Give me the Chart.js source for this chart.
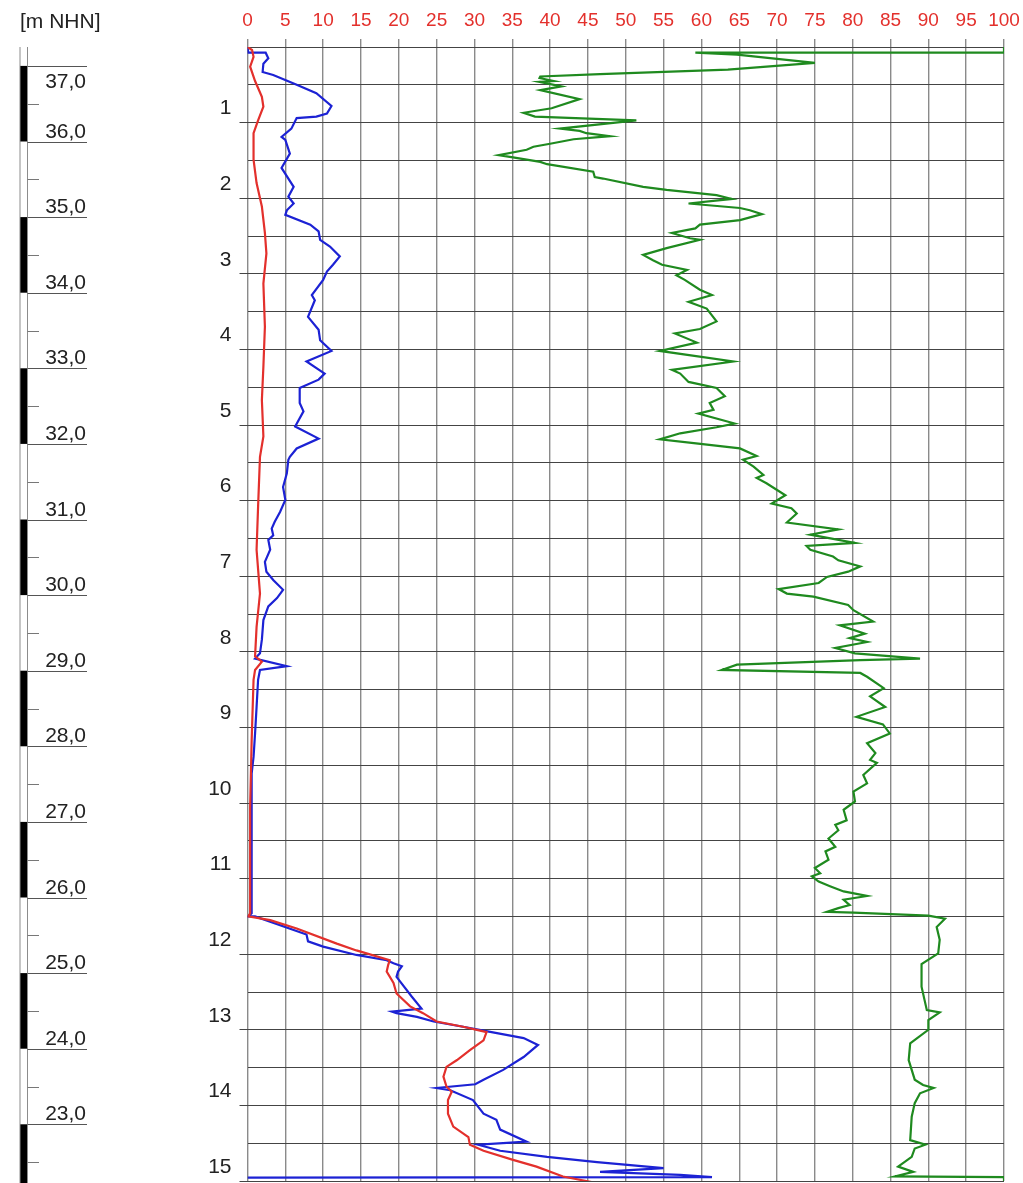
<!DOCTYPE html>
<html>
<head>
<meta charset="utf-8">
<script src="https://cdn.jsdelivr.net/npm/chart.js@4.4.1/dist/chart.umd.min.js"></script>
<style>
  html, body { margin: 0; padding: 0; background: #fff; }
  canvas { display: block; }
</style>
</head>
<body>
<canvas id="log" width="1023" height="1183"></canvas>
<script>
// ---- log readings: depth below ground [m] and reading on the 0-100 scale ----
const redDepth = [0, 0.04, 0.13, 0.26, 0.45, 0.66, 0.79, 0.97, 1.14, 1.23, 1.49, 1.80, 2.11, 2.46, 2.73, 3.13, 3.70, 4.23, 4.67, 5.15, 5.42, 6.08, 6.65, 7.23, 7.67, 8.06, 8.13, 8.24, 8.37, 9.17, 10.05, 11.46, 11.50, 11.55, 11.66, 11.86, 11.95, 12.08, 12.14, 12.23, 12.38, 12.52, 12.69, 12.78, 12.89, 12.96, 13.03, 13.14, 13.27, 13.40, 13.49, 13.62, 13.75, 13.82, 13.93, 14.11, 14.28, 14.42, 14.52, 14.60, 14.72, 14.81, 14.94, 15.01, 15.05];
const redValue = [0, 0.6, 0.8, 0.35, 1.0, 1.9, 2.1, 1.4, 0.8, 0.8, 0.8, 1.2, 1.9, 2.3, 2.5, 2.1, 2.3, 2.1, 1.9, 2.1, 1.65, 1.4, 1.2, 1.65, 1.2, 1.0, 1.9, 1.0, 0.8, 0.55, 0.35, 0.35, 0.1, 3.0, 6.5, 11.8, 14.4, 18.8, 18.6, 18.4, 19.3, 19.7, 21.5, 23.2, 25.0, 28.5, 31.6, 31.2, 29.4, 27.7, 26.3, 25.9, 26.3, 27.0, 26.5, 26.5, 27.2, 29.2, 29.4, 31.2, 35.1, 38.2, 41.7, 45.3, 47.0];

const blueDepth = [0, 0.075, 0.075, 0.15, 0.22, 0.33, 0.37, 0.50, 0.61, 0.78, 0.88, 0.92, 0.94, 1.08, 1.19, 1.23, 1.41, 1.60, 1.85, 1.98, 2.07, 2.16, 2.22, 2.35, 2.44, 2.55, 2.64, 2.77, 2.88, 2.97, 3.08, 3.28, 3.35, 3.57, 3.74, 3.88, 4.02, 4.16, 4.32, 4.40, 4.51, 4.71, 4.82, 5.02, 5.18, 5.31, 5.42, 5.46, 5.64, 5.82, 5.99, 6.15, 6.28, 6.37, 6.46, 6.52, 6.65, 6.81, 6.94, 7.05, 7.18, 7.29, 7.40, 7.58, 7.84, 8.02, 8.09, 8.19, 8.24, 8.37, 8.73, 9.08, 9.39, 9.61, 10.49, 11.46, 11.50, 11.50, 11.74, 11.83, 11.90, 12.01, 12.08, 12.12, 12.16, 12.23, 12.30, 12.56, 12.72, 12.76, 12.78, 12.83, 12.89, 12.96, 13.01, 13.11, 13.20, 13.36, 13.53, 13.66, 13.72, 13.77, 13.80, 13.93, 14.11, 14.19, 14.32, 14.48, 14.52, 14.60, 14.68, 14.75, 14.83, 14.88, 14.92, 14.95, 14.955];
const blueValue = [0, 0.1, 2.4, 2.75, 2.1, 2.0, 3.4, 6.5, 9.1, 11.1, 10.5, 9.1, 6.5, 5.8, 4.5, 5.0, 5.6, 4.5, 6.1, 5.4, 6.1, 5.2, 5.0, 8.3, 9.4, 9.6, 10.9, 12.2, 11.3, 10.5, 10.0, 8.5, 8.9, 8.0, 9.4, 9.6, 11.1, 7.8, 10.2, 9.4, 6.9, 6.9, 7.4, 6.3, 9.4, 6.5, 5.6, 5.4, 5.2, 4.7, 5.0, 4.3, 3.6, 3.2, 3.4, 2.75, 3.0, 2.3, 2.5, 3.4, 4.7, 3.9, 2.75, 2.1, 1.9, 1.65, 1.0, 5.2, 1.65, 1.4, 1.2, 1.0, 0.8, 0.55, 0.55, 0.55, 0.1, 1.0, 7.8, 8.0, 10.0, 14.4, 18.4, 19.3, 20.4, 19.9, 19.7, 21.7, 23.0, 19.1, 19.7, 22.4, 24.6, 28.5, 31.2, 36.5, 38.4, 36.5, 33.8, 31.2, 30.1, 25.0, 26.8, 29.8, 31.2, 32.9, 33.4, 36.9, 30.5, 33.4, 39.6, 46.2, 55.0, 46.6, 57.2, 61.4, 0];

const greenDepth = [0, 0.075, 0.075, 0.10, 0.21, 0.30, 0.36, 0.39, 0.41, 0.45, 0.46, 0.52, 0.57, 0.69, 0.81, 0.87, 0.92, 0.97, 1.08, 1.11, 1.14, 1.18, 1.22, 1.28, 1.32, 1.36, 1.43, 1.46, 1.52, 1.55, 1.65, 1.72, 1.74, 1.85, 1.89, 1.96, 2.01, 2.07, 2.13, 2.16, 2.21, 2.29, 2.35, 2.40, 2.46, 2.53, 2.55, 2.66, 2.75, 2.82, 2.88, 2.95, 3.02, 3.08, 3.21, 3.28, 3.37, 3.46, 3.63, 3.73, 3.79, 3.91, 4.02, 4.16, 4.27, 4.32, 4.43, 4.51, 4.62, 4.71, 4.80, 4.85, 4.98, 5.03, 5.11, 5.19, 5.24, 5.31, 5.41, 5.46, 5.55, 5.66, 5.70, 5.77, 5.93, 6.04, 6.10, 6.17, 6.29, 6.38, 6.45, 6.56, 6.60, 6.65, 6.74, 6.79, 6.87, 6.94, 7.01, 7.09, 7.17, 7.23, 7.27, 7.38, 7.45, 7.60, 7.65, 7.76, 7.82, 7.87, 7.95, 8.02, 8.09, 8.11, 8.17, 8.24, 8.28, 8.33, 8.48, 8.59, 8.73, 8.86, 8.96, 9.08, 9.21, 9.34, 9.43, 9.47, 9.63, 9.74, 9.85, 9.98, 10.09, 10.23, 10.29, 10.36, 10.47, 10.58, 10.64, 10.75, 10.86, 10.93, 10.97, 11.04, 11.10, 11.17, 11.23, 11.28, 11.35, 11.39, 11.44, 11.45, 11.49, 11.53, 11.64, 11.81, 11.99, 12.13, 12.43, 12.74, 12.77, 12.87, 13.00, 13.18, 13.40, 13.66, 13.73, 13.77, 13.84, 13.97, 14.15, 14.46, 14.52, 14.57, 14.68, 14.81, 14.88, 14.94, 14.95, 15.0];
const greenValue = [100, 100, 59.2, 64.7, 75.0, 63.5, 46.6, 38.7, 38.6, 40.5, 38.6, 41.5, 38.7, 43.9, 40.2, 36.5, 38.0, 51.4, 41.3, 43.9, 44.8, 47.9, 43.1, 40.0, 37.8, 36.9, 33.2, 35.1, 38.7, 39.6, 45.7, 45.9, 47.0, 52.3, 55.4, 62.0, 64.0, 58.3, 65.1, 66.4, 68.0, 65.1, 59.8, 59.2, 56.1, 58.5, 59.8, 55.4, 52.3, 53.6, 54.8, 58.1, 56.7, 57.8, 59.8, 61.4, 58.3, 60.7, 62.0, 59.8, 56.5, 59.4, 54.5, 64.2, 56.1, 57.2, 58.3, 62.0, 63.1, 61.1, 61.6, 59.6, 64.4, 62.0, 57.2, 54.5, 59.0, 65.1, 67.3, 65.5, 66.9, 68.2, 67.3, 68.6, 71.1, 69.3, 71.9, 72.6, 71.3, 78.1, 74.4, 80.3, 73.9, 74.4, 77.4, 78.1, 81.0, 79.4, 76.6, 75.5, 70.2, 71.3, 74.8, 79.4, 80.1, 82.7, 78.3, 81.6, 79.6, 81.9, 77.7, 80.3, 88.9, 81.0, 64.7, 62.7, 81.0, 81.9, 84.1, 82.3, 84.3, 80.5, 84.0, 84.9, 81.9, 83.0, 82.3, 83.2, 81.4, 81.9, 80.1, 80.3, 78.8, 79.2, 77.7, 78.1, 76.8, 77.7, 76.4, 76.8, 75.0, 75.7, 74.6, 75.5, 77.0, 78.8, 81.9, 78.8, 79.6, 78.1, 76.6, 80.1, 90.0, 92.2, 91.1, 91.5, 91.3, 89.1, 89.1, 89.8, 91.5, 90.0, 90.0, 87.6, 87.4, 88.2, 89.3, 90.7, 88.9, 88.2, 87.8, 87.6, 89.6, 88.2, 87.8, 86.0, 88.0, 85.6, 100, 100];

// ---- axes ----
const valueTicks = [0, 5, 10, 15, 20, 25, 30, 35, 40, 45, 50, 55, 60, 65, 70, 75, 80, 85, 90, 95, 100];
const depthGrid = [0, 0.5, 1, 1.5, 2, 2.5, 3, 3.5, 4, 4.5, 5, 5.5, 6, 6.5, 7, 7.5, 8, 8.5, 9, 9.5, 10, 10.5, 11, 11.5, 12, 12.5, 13, 13.5, 14, 14.5, 15];
const depthLabels = [1, 2, 3, 4, 5, 6, 7, 8, 9, 10, 11, 12, 13, 14, 15];

// ---- elevation column [m NHN] ----
const groundLevel = 37.25;
const elevationLabels = [37, 36, 35, 34, 33, 32, 31, 30, 29, 28, 27, 26, 25, 24, 23];
const elevationHalfTicks = [36.5, 35.5, 34.5, 33.5, 32.5, 31.5, 30.5, 29.5, 28.5, 27.5, 26.5, 25.5, 24.5, 23.5, 22.5];
const darkBands = [[37, 36], [35, 34], [33, 32], [31, 30], [29, 28], [27, 26], [25, 24], [23, 22]];

const FONT = "'Liberation Sans', Arial, sans-serif";
const toPoints = (depth, value) => depth.map((d, i) => ({ x: value[i], y: d }));

const elevationColumn = {
  id: 'elevationColumn',
  afterDraw(chart) {
    const ctx = chart.ctx;
    const ys = chart.scales.y;
    const py = e => ys.getPixelForValue(groundLevel - e);
    const top = chart.chartArea.top;
    const bottom = chart.height;
    const railL = 20, railR = 27.5;
    ctx.save();
    ctx.beginPath();
    ctx.rect(0, top, 240, bottom - top);
    ctx.clip();
    ctx.fillStyle = '#000';
    darkBands.forEach(([a, b]) => ctx.fillRect(railL, py(a), railR - railL, py(b) - py(a)));
    ctx.strokeStyle = '#8c8c8c';
    ctx.lineWidth = 1;
    [railL, railR].forEach(x => {
      ctx.beginPath(); ctx.moveTo(x, top); ctx.lineTo(x, bottom); ctx.stroke();
    });
    ctx.strokeStyle = '#777';
    elevationHalfTicks.forEach(e => {
      const y = Math.round(py(e)) + 0.5;
      ctx.beginPath(); ctx.moveTo(railR, y); ctx.lineTo(39, y); ctx.stroke();
    });
    ctx.strokeStyle = '#555';
    ctx.fillStyle = '#222';
    ctx.font = '21px ' + FONT;
    ctx.textAlign = 'right';
    ctx.textBaseline = 'alphabetic';
    elevationLabels.forEach((e, i) => {
      const y = Math.round(py(e)) + 0.5;
      ctx.beginPath(); ctx.moveTo(railR, y); ctx.lineTo(87, y); ctx.stroke();
      const text = e.toFixed(1).replace('.', ',');
      // the topmost label hangs under its line to keep clear of the unit caption
      ctx.fillText(text, 86, i === 0 ? y + 21 : y - 5);
    });
    ctx.restore();
    ctx.save();
    ctx.fillStyle = '#222';
    ctx.font = '21px ' + FONT;
    ctx.textAlign = 'left';
    ctx.textBaseline = 'alphabetic';
    ctx.fillText('[m NHN]', 20, 28);
    ctx.restore();
  }
};

new Chart(document.getElementById('log'), {
  type: 'scatter',
  data: {
    datasets: [
      { data: toPoints(redDepth, redValue), borderColor: '#e3302c' },
      { data: toPoints(blueDepth, blueValue), borderColor: '#1c22d4' },
      { data: toPoints(greenDepth, greenValue), borderColor: '#1f8a1f' }
    ].map(ds => Object.assign(ds, { showLine: true, borderWidth: 2.2, pointRadius: 0, pointHoverRadius: 0, tension: 0, fill: false }))
  },
  options: {
    responsive: false,
    devicePixelRatio: 1,
    animation: false,
    events: [],
    layout: { padding: { left: 0, right: 19, top: 0, bottom: 2 } },
    plugins: { legend: { display: false }, tooltip: { enabled: false } },
    scales: {
      x: {
        type: 'linear', position: 'top', min: 0, max: 100,
        afterBuildTicks: s => { s.ticks = valueTicks.map(v => ({ value: v })); },
        afterFit: s => { s.height = 47; s.paddingLeft = 0; s.paddingRight = 0; },
        ticks: { color: '#e3302c', font: { family: FONT, size: 19 }, padding: 7, maxRotation: 0, autoSkip: false },
        grid: { color: '#8a8a8a', lineWidth: 1.4, tickLength: 8, tickColor: '#8a8a8a' },
        border: { display: false }
      },
      y: {
        type: 'linear', position: 'left', reverse: true, min: 0, max: 15,
        afterBuildTicks: s => { s.ticks = depthGrid.map(v => ({ value: v })); },
        afterFit: s => { s.width = 247.5; s.paddingTop = 0; s.paddingBottom = 0; },
        ticks: {
          color: '#222', font: { family: FONT, size: 21 }, padding: 8, labelOffset: -14, autoSkip: false,
          callback: v => depthLabels.includes(v) ? String(v) : ''
        },
        grid: {
          color: '#444', lineWidth: 1, tickLength: 8,
          tickColor: c => depthLabels.includes(c.tick.value) ? '#444' : 'rgba(0,0,0,0)'
        },
        border: { display: false }
      }
    }
  },
  plugins: [elevationColumn]
});
</script>
</body>
</html>
